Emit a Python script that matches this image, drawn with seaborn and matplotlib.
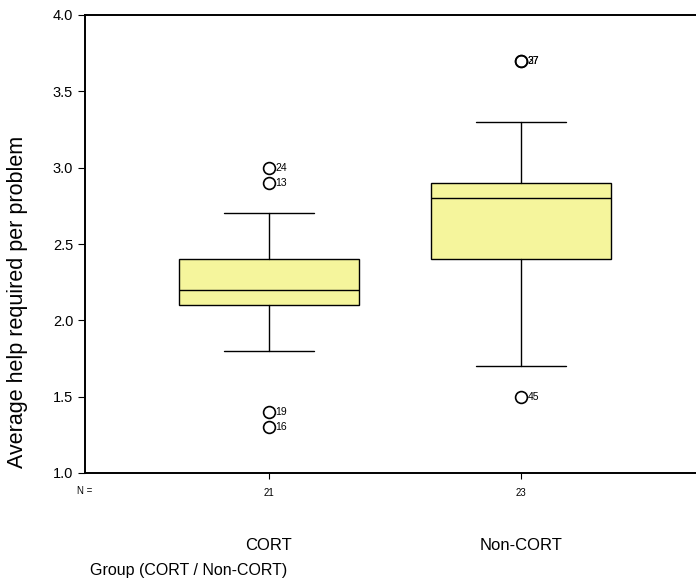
import numpy as np
import matplotlib
matplotlib.use('Agg')
import matplotlib.pyplot as plt
import matplotlib.transforms as mtransforms
import seaborn as sns

# Box summary values
groups = ['CORT', 'Non-CORT']
n_counts = [21, 23]
whisker_low = [1.8, 1.7]
q1 = [2.1, 2.4]
median = [2.2, 2.8]
q3 = [2.4, 2.9]
whisker_high = [2.7, 3.3]
outlier_vals = [[3.0, 2.9, 1.4, 1.3], [3.7, 3.7, 1.5]]
outlier_ids = [['24', '13', '19', '16'], ['27', '37', '45']]

sns.set_style('ticks')
plt.rcParams['font.family'] = ['Liberation Sans', 'DejaVu Sans']
plt.rcParams['text.color'] = 'black'
plt.rcParams['xtick.color'] = 'black'
plt.rcParams['ytick.color'] = 'black'

fig = plt.figure(figsize=(6.96, 5.87), dpi=100)
ax = fig.add_axes([85 / 696, 1 - 473 / 587, 620 / 696, 458 / 587])

stats = []
for i, g in enumerate(groups):
    stats.append(dict(label=g, whislo=whisker_low[i], q1=q1[i], med=median[i],
                      q3=q3[i], whishi=whisker_high[i], fliers=outlier_vals[i]))

ax.bxp(stats, positions=[0, 1], widths=0.714, patch_artist=True, showfliers=True,
       boxprops=dict(facecolor='#F5F59C', edgecolor='black', linewidth=1.0),
       medianprops=dict(color='black', linewidth=1.0),
       whiskerprops=dict(color='black', linewidth=1.0),
       capprops=dict(color='black', linewidth=1.0),
       capwidths=0.357,
       flierprops=dict(marker='o', markerfacecolor='none', markeredgecolor='black',
                       markersize=8.5, markeredgewidth=1.2))

for i in range(len(groups)):
    for v, lab in zip(outlier_vals[i], outlier_ids[i]):
        ax.annotate(lab, (i, v), xytext=(4.5, 0), textcoords='offset points',
                    ha='left', va='center', fontsize=7.5)

ax.set_xlim(-0.73, 1.73)
ax.set_ylim(1.0, 4.0)
ax.set_yticks([1.0, 1.5, 2.0, 2.5, 3.0, 3.5, 4.0])
ax.set_yticklabels(['1.0', '1.5', '2.0', '2.5', '3.0', '3.5', '4.0'], fontsize=10.5)
ax.set_xticks([0, 1])
ax.set_xticklabels([str(n) for n in n_counts], fontsize=7)
ax.tick_params(axis='x', length=4, pad=7)
ax.tick_params(axis='y', length=5)

for s in ['left', 'top', 'bottom']:
    ax.spines[s].set_linewidth(1.4)
    ax.spines[s].set_color('black')
ax.spines['right'].set_visible(False)

trans = mtransforms.blended_transform_factory(ax.transData, ax.transAxes)
for i, g in enumerate(groups):
    ax.text(i, -0.158, g, transform=trans, ha='center', va='center', fontsize=12)
ax.text(0.0, -0.04, 'N =', transform=ax.transAxes, ha='center', va='center', fontsize=7)

fig.text(18 / 696, 1 - 302 / 587, 'Average help required per problem', rotation=90,
         ha='center', va='center', fontsize=15.5)
fig.text(90 / 696, 1 - 571 / 587, 'Group (CORT / Non-CORT)', ha='left', va='center',
         fontsize=11.5)

fig.savefig('out.png', dpi=100)
